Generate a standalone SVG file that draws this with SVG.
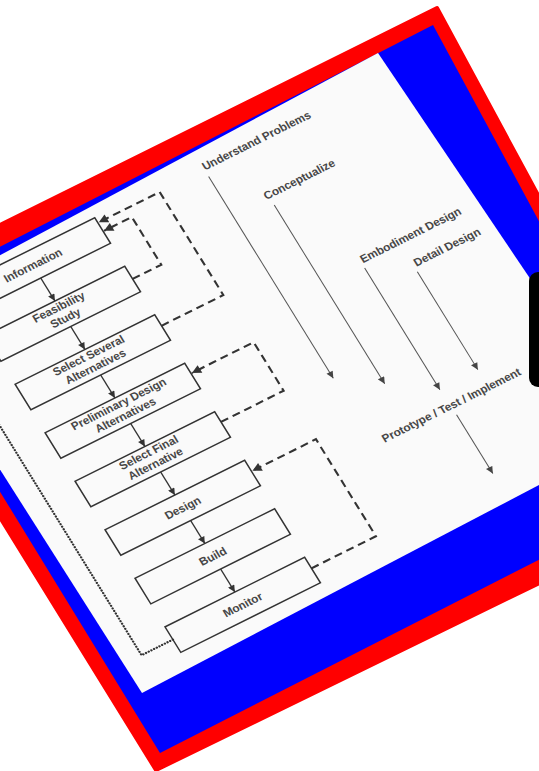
<svg xmlns="http://www.w3.org/2000/svg" width="539" height="771" viewBox="0 0 539 771">
<defs>
<style>
.box rect{fill:none;stroke:#333;stroke-width:1.5}
.lbl{font-family:"Liberation Sans",Arial,sans-serif;font-weight:bold;font-size:11.5px;fill:#474747;text-anchor:middle}
.hdr{font-family:"Liberation Sans",Arial,sans-serif;font-weight:bold;font-size:11.5px;fill:#474747}
.flow{stroke:#333;stroke-width:1.4;fill:none}
.fb{stroke:#333;stroke-width:2.1;fill:none;stroke-dasharray:8 5}
.dot{stroke:#333;stroke-width:2.3;fill:none;stroke-dasharray:0 3;stroke-linecap:round}
.thin{stroke:#555;stroke-width:1;fill:none}
</style>
<marker id="a1" viewBox="0 0 10 10" refX="10" refY="5" markerWidth="8" markerHeight="7" orient="auto" markerUnits="userSpaceOnUse"><path d="M0,0L10,5L0,10z" fill="#333"/></marker>
<marker id="a2" viewBox="0 0 10 10" refX="10" refY="5" markerWidth="10" markerHeight="9" orient="auto" markerUnits="userSpaceOnUse"><path d="M0,0L10,5L0,10z" fill="#333"/></marker>
<marker id="a3" viewBox="0 0 10 10" refX="10" refY="5" markerWidth="8" markerHeight="7" orient="auto" markerUnits="userSpaceOnUse"><path d="M0,0L10,5L0,10z" fill="#444"/></marker>
</defs>
<rect width="539" height="771" fill="#fff"/>
<polygon points="437,8 560,236 560,573 156,770 -20,485 -20,235" fill="#f00" stroke="#f00" stroke-width="4" stroke-linejoin="round"/>
<polygon points="433,25 560,260 560,549 160,753 -20,459 -20,257" fill="#00f"/>
<polygon points="378,53 560,323 560,474 142,693 -20,438 -20,266" fill="#fafafa"/>
<g transform="matrix(0.895 -0.446 0.526 0.851 -73.8 259.4)">
<g id="connectors">
<line class="flow" x1="88" y1="68" x2="88" y2="95" marker-end="url(#a1)"/>
<line class="flow" x1="88" y1="125" x2="88" y2="152" marker-end="url(#a1)"/>
<line class="flow" x1="88" y1="182" x2="88" y2="209" marker-end="url(#a1)"/>
<line class="flow" x1="88" y1="239" x2="88" y2="266" marker-end="url(#a1)"/>
<line class="flow" x1="88" y1="296" x2="88" y2="323" marker-end="url(#a1)"/>
<line class="flow" x1="88" y1="353" x2="88" y2="380" marker-end="url(#a1)"/>
<line class="flow" x1="88" y1="410" x2="88" y2="437" marker-end="url(#a1)"/>
<path class="fb" d="M166,165H235V44H167" marker-end="url(#a2)"/>
<path class="fb" d="M166,110H198V54H167" marker-end="url(#a2)"/>
<path class="fb" d="M166,278H236V221H167" marker-end="url(#a2)"/>
<path class="fb" d="M166,450H238V336H167" marker-end="url(#a2)"/>
<path class="dot" d="M10,452H-25V53H10"/>
<line class="thin" x1="285" y1="52" x2="285" y2="289" marker-end="url(#a3)"/>
<line class="thin" x1="326" y1="107" x2="326" y2="317" marker-end="url(#a3)"/>
<line class="thin" x1="370" y1="204" x2="370" y2="347" marker-end="url(#a3)"/>
<line class="thin" x1="413" y1="231" x2="413" y2="346" marker-end="url(#a3)"/>
<line class="thin" x1="371" y1="377" x2="371" y2="446" marker-end="url(#a3)"/>
</g>
<g id="information" class="box"><rect x="10" y="38" width="156" height="30"/><text class="lbl" x="88" y="57">Information</text></g>
<g id="feasibility" class="box"><rect x="10" y="95" width="156" height="30"/><text class="lbl" x="88" y="106">Feasibility</text><text class="lbl" x="88" y="119">Study</text></g>
<g id="select-several" class="box"><rect x="10" y="152" width="156" height="30"/><text class="lbl" x="88" y="163">Select Several</text><text class="lbl" x="88" y="176">Alternatives</text></g>
<g id="preliminary" class="box"><rect x="10" y="209" width="156" height="30"/><text class="lbl" x="88" y="220">Preliminary Design</text><text class="lbl" x="88" y="233">Alternatives</text></g>
<g id="select-final" class="box"><rect x="10" y="266" width="156" height="30"/><text class="lbl" x="88" y="277">Select Final</text><text class="lbl" x="88" y="290">Alternative</text></g>
<g id="design" class="box"><rect x="10" y="323" width="156" height="30"/><text class="lbl" x="88" y="342">Design</text></g>
<g id="build" class="box"><rect x="10" y="380" width="156" height="30"/><text class="lbl" x="88" y="399">Build</text></g>
<g id="monitor" class="box"><rect x="10" y="437" width="156" height="30"/><text class="lbl" x="88" y="456">Monitor</text></g>
<g id="understand"><text class="hdr" x="285" y="45">Understand Problems</text></g>
<g id="conceptualize"><text class="hdr" x="322" y="99">Conceptualize</text></g>
<g id="embodiment"><text class="hdr" x="371" y="199">Embodiment Design</text></g>
<g id="detail"><text class="hdr" x="415" y="226">Detail Design</text></g>
<g id="prototype"><text class="hdr" x="295" y="370">Prototype / Test / Implement</text></g>
</g>
<rect x="529" y="272" width="30" height="115" rx="9" fill="#000"/>
</svg>
